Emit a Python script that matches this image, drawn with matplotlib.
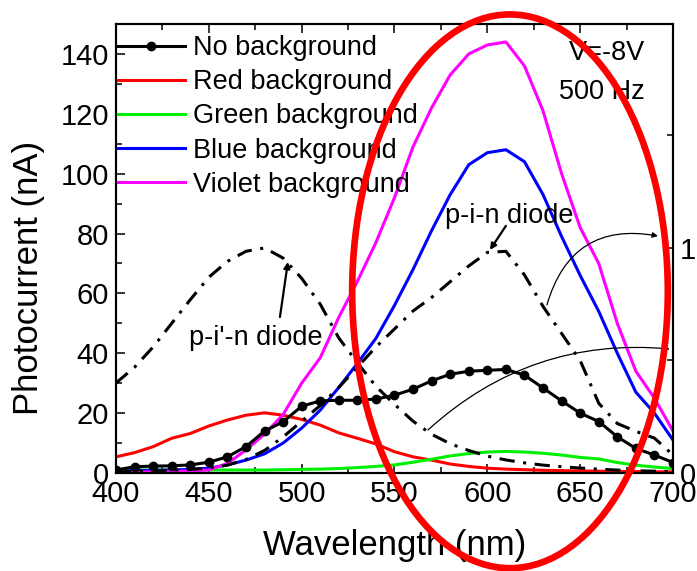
import matplotlib
matplotlib.use('Agg')
import matplotlib.pyplot as plt
from matplotlib.patches import Ellipse
from matplotlib.ticker import MultipleLocator

plt.rcParams['font.family'] = ['Liberation Sans', 'DejaVu Sans']

wavelength = list(range(400, 701, 10))

no_background = [1.0, 2.1, 2.3, 2.4, 2.7, 3.6, 5.4, 8.8, 14.0, 17.1, 22.3, 24.1, 24.3, 24.3, 24.7, 26.0,
	28.0, 30.8, 33.0, 34.0, 34.3, 34.6, 32.7, 28.4, 24.1, 20.0, 17.2, 12.1, 8.2, 6.0, 3.5]
red_background = [5.4, 6.8, 8.8, 11.6, 13.2, 15.7, 17.7, 19.3, 20.1, 19.3, 17.9, 16.0, 13.4, 11.6, 9.7, 7.1,
	5.4, 4.3, 3.0, 2.2, 1.6, 1.3, 1.1, 0.9, 0.8, 0.7, 0.6, 0.5, 0.5, 0.4, 0.4]
green_background = [1.0, 1.0, 1.0, 1.0, 1.0, 1.0, 1.0, 1.0, 1.0, 1.1, 1.2, 1.3, 1.5, 1.8, 2.2, 2.7,
	3.6, 4.6, 5.7, 6.5, 7.0, 7.2, 7.0, 6.6, 6.0, 5.2, 4.7, 3.5, 2.6, 2.0, 1.5]
blue_background = [0.7, 0.8, 0.9, 1.0, 1.2, 1.6, 2.7, 4.3, 6.4, 10.0, 15.0, 21.0, 28.6, 36.6, 45.0, 56.0,
	68.0, 81.0, 93.0, 103.0, 107.0, 108.0, 104.0, 93.0, 79.0, 66.0, 54.0, 40.0, 27.0, 20.0, 11.0]
violet_background = [0.3, 0.3, 0.4, 0.5, 0.7, 1.0, 3.2, 7.7, 13.0, 19.5, 30.0, 38.5, 52.0, 64.0, 77.0, 92.0,
	109.0, 122.0, 133.0, 140.0, 143.0, 144.0, 136.0, 121.0, 100.0, 82.0, 70.0, 50.0, 34.0, 25.0, 14.0]

# normalized responses of the two diodes (right axis)
pin_diode = [0.005, 0.007, 0.01, 0.012, 0.016, 0.022, 0.035, 0.06, 0.1, 0.16, 0.23, 0.3, 0.38, 0.47, 0.56, 0.64,
	0.72, 0.78, 0.85, 0.92, 0.98, 0.985, 0.88, 0.74, 0.62, 0.5, 0.31, 0.22, 0.185, 0.155, 0.08]
pipn_diode = [0.40, 0.47, 0.56, 0.665, 0.77, 0.87, 0.94, 0.985, 1.0, 0.955, 0.865, 0.75, 0.6, 0.49, 0.385, 0.305,
	0.23, 0.172, 0.13, 0.1, 0.075, 0.058, 0.045, 0.035, 0.028, 0.022, 0.017, 0.013, 0.01, 0.008, 0.006]

series = [
	('Red background', red_background, '#ff0000'),
	('Green background', green_background, '#00ee00'),
	('Blue background', blue_background, '#0000ff'),
	('Violet background', violet_background, '#ff00ff'),
]

fig = plt.figure(figsize=(6.97, 5.71), dpi=100)
ax = fig.add_axes([116 / 697, 1 - 473 / 571, 557 / 697, 449 / 571])
ax2 = ax.twinx()

handles = []
h, = ax.plot(wavelength, no_background, '-o', color='black', lw=2.2, ms=6, label='No background', zorder=5)
handles.append(h)
for name, values, color in series:
	h, = ax.plot(wavelength, values, '-', color=color, lw=2.2, label=name)
	handles.append(h)

dashdot = (0, (5, 2.8, 1, 2.8))
ax2.plot(wavelength, pin_diode, color='black', lw=2.2, linestyle=dashdot)
ax2.plot(wavelength, pipn_diode, color='black', lw=2.2, linestyle=dashdot)

ax.set_xlim(400, 700)
ax.set_ylim(0, 150)
ax2.set_ylim(0, 1.995)

ax.xaxis.set_major_locator(MultipleLocator(50))
ax.xaxis.set_minor_locator(MultipleLocator(25))
ax.yaxis.set_major_locator(MultipleLocator(20))
ax.yaxis.set_minor_locator(MultipleLocator(10))
ax.set_yticks([0, 20, 40, 60, 80, 100, 120, 140])
ax2.set_yticks([0, 1])
ax2.yaxis.set_minor_locator(MultipleLocator(0.5))

ax.tick_params(which='both', direction='in', top=True, right=False, labelsize=21, width=1.1, pad=5)
ax.tick_params(which='major', length=6.5)
ax.tick_params(which='minor', length=4)
ax2.tick_params(which='both', direction='in', labelsize=21, width=1.1, pad=5)
ax2.tick_params(which='major', length=6.5)
ax2.tick_params(which='minor', length=4)
for a in (ax, ax2):
	for s in a.spines.values():
		s.set_linewidth(1.5)

ax.set_xlabel('Wavelength (nm)', fontsize=25)
ax.set_ylabel('Photocurrent (nA)', fontsize=25)
ax.xaxis.set_label_coords(0.5, -0.125)
ax.yaxis.set_label_coords(-0.128, 0.435)

ax.legend(handles=handles, loc='upper left', bbox_to_anchor=(0, 0.975), frameon=False, fontsize=19.5,
	handlelength=2.55, handletextpad=0.3, labelspacing=0.3, borderaxespad=0, borderpad=0, markerfirst=True,
	numpoints=1)

ax.text(0.95, 0.935, 'V=-8V', transform=ax.transAxes, ha='right', va='center', fontsize=19.5)
ax.text(0.95, 0.849, '500 Hz', transform=ax.transAxes, ha='right', va='center', fontsize=19.5)

arrow = dict(arrowstyle='-|>', color='black', lw=1.6, mutation_scale=9, shrinkA=0, shrinkB=0)
ax2.text(611.6, 1.142, 'p-i-n diode', ha='center', va='center', fontsize=19.5)
ax2.annotate('', xy=(601.4, 0.991), xytext=(610, 1.098), arrowprops=arrow)
ax2.text(475.4, 0.6, "p-i'-n diode", ha='center', va='center', fontsize=19.5)
ax2.annotate('', xy=(492.6, 0.938), xytext=(488.3, 0.693), arrowprops=arrow)

thin = dict(arrowstyle='-|>', color='black', lw=0.9, mutation_scale=8, shrinkA=0, shrinkB=0)
ax2.annotate('', xy=(691.9, 1.053), xytext=(632.1, 0.747), arrowprops=dict(thin, connectionstyle='arc3,rad=-0.45'))
ax2.annotate('', xy=(698.3, 0.551), xytext=(568, 0.191), arrowprops=dict(thin, connectionstyle='arc3,rad=-0.22'))

ring = Ellipse((612.2, 60.7), 170, 185, fill=False, edgecolor='#ff0000', lw=4.8, clip_on=False, zorder=10)
ax2.add_patch(ring)
ring.set_transform(ax.transData)

fig.savefig('out.png', dpi=100)
